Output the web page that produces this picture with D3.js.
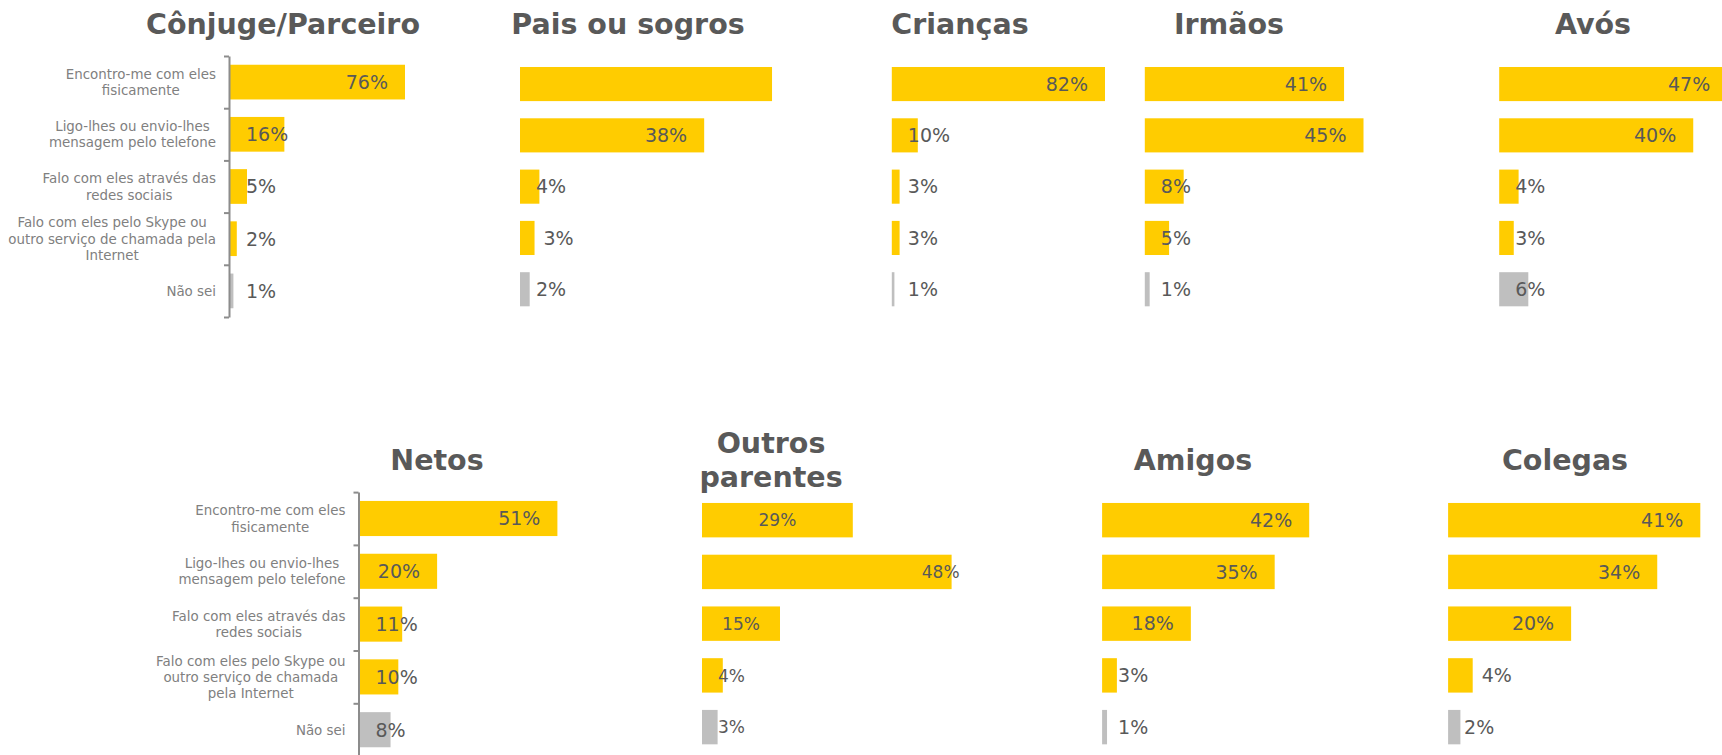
<!DOCTYPE html>
<html>
<head>
<meta charset="utf-8">
<script src="https://cdn.jsdelivr.net/npm/d3@7"></script>
<style>
body { margin: 0; background: #fff; }
text { font-family: "DejaVu Sans", Verdana, sans-serif; }
</style>
</head>
<body>
<div id="chart"></div>
<script>
// Chart params
var svgWidth = 1722;
var svgHeight = 755;

var yellow = "#FFCC00";
var gray = "#BFBFBF";

// Categories (same order in every panel)
var categories = [
    "Encontro-me com eles fisicamente",
    "Ligo-lhes ou envio-lhes mensagem pelo telefone",
    "Falo com eles através das redes sociais",
    "Falo com eles pelo Skype ou outro serviço de chamada pela Internet",
    "Não sei"
];

// how the category labels wrap, top row and bottom row
var linesTop = [
    ["Encontro-me com eles", "fisicamente"],
    ["Ligo-lhes ou envio-lhes", "mensagem pelo telefone"],
    ["Falo com eles através das", "redes sociais"],
    ["Falo com eles pelo Skype ou", "outro serviço de chamada pela", "Internet"],
    ["Não sei"]
];
var linesBottom = [
    ["Encontro-me com eles", "fisicamente"],
    ["Ligo-lhes ou envio-lhes", "mensagem pelo telefone"],
    ["Falo com eles através das", "redes sociais"],
    ["Falo com eles pelo Skype ou", "outro serviço de chamada", "pela Internet"],
    ["Não sei"]
];

// Values (%) per panel
var conjugeValues = [76, 16, 5, 2, 1];
var paisValues = [52, 38, 4, 3, 2];
var criancasValues = [82, 10, 3, 3, 1];
var irmaosValues = [41, 45, 8, 5, 1];
var avosValues = [47, 40, 4, 3, 6];
var netosValues = [51, 20, 11, 10, 8];
var outrosValues = [29, 48, 15, 4, 3];
var amigosValues = [42, 35, 18, 3, 1];
var colegasValues = [41, 34, 20, 4, 2];

// Layout of each small chart
var panels = [
    {title: ["Cônjuge/Parceiro"], values: conjugeValues, x0: 230, x1: 405, max: 51.5,
     y0: 56, y1: 317, tx: 283, ty: 34, axis: true, lines: linesTop, fs: 19,
     place: ["in", "base", "base", "base", "base"]},
    {title: ["Pais ou sogros"], values: paisValues, x0: 520, x1: 773, max: 52.2,
     y0: 58.4, y1: 314.9, tx: 628, ty: 34, fs: 19,
     place: ["none", "in", "base", "out", "base"]},
    {title: ["Crianças"], values: criancasValues, x0: 891.8, x1: 1105, max: 82,
     y0: 58.4, y1: 314.9, tx: 960, ty: 34, fs: 19,
     place: ["in", "base", "base", "base", "base"]},
    {title: ["Irmãos"], values: irmaosValues, x0: 1144.8, x1: 1363.5, max: 45,
     y0: 58.4, y1: 314.9, tx: 1229, ty: 34, fs: 19,
     place: ["in", "in", "base", "base", "base"]},
    {title: ["Avós"], values: avosValues, x0: 1499.2, x1: 1727.2, max: 47,
     y0: 58.4, y1: 314.9, tx: 1593, ty: 34, fs: 19,
     place: ["in", "in", "base", "base", "base"]},
    {title: ["Netos"], values: netosValues, x0: 359.5, x1: 557.4, max: 51,
     y0: 492.1, y1: 756.1, tx: 437, ty: 470, axis: true, lines: linesBottom, fs: 19,
     place: ["in", "in", "base", "base", "base"]},
    {title: ["Outros", "parentes"], values: outrosValues, x0: 702, x1: 951.6, max: 48,
     y0: 494.3, y1: 753, tx: 771, ty: 453.3, fs: 17,
     place: ["mid", "edge", "mid", "base", "base"]},
    {title: ["Amigos"], values: amigosValues, x0: 1102.1, x1: 1309.2, max: 42,
     y0: 494.3, y1: 753, tx: 1193, ty: 470, fs: 19,
     place: ["in", "in", "in", "base", "base"]},
    {title: ["Colegas"], values: colegasValues, x0: 1448.1, x1: 1700.3, max: 41,
     y0: 494.3, y1: 753, tx: 1565, ty: 470, fs: 19,
     place: ["in", "in", "in", "out", "base"]}
];

var svg = d3.select("#chart")
    .append("svg")
    .attr("width", svgWidth)
    .attr("height", svgHeight);

panels.forEach(function(p) {
    var g = svg.append("g");

    var x = d3.scaleLinear()
        .domain([0, p.max])
        .range([p.x0, p.x1])
        .clamp(true);

    var y = d3.scaleBand()
        .domain(categories)
        .range([p.y0, p.y1])
        .paddingInner(0.335)
        .paddingOuter(0.1675);

    // title
    var title = g.append("text")
        .attr("text-anchor", "middle")
        .attr("font-weight", "bold")
        .attr("font-size", "28.5px")
        .attr("fill", "#595959");
    p.title.forEach(function(t, i) {
        title.append("tspan")
            .attr("x", p.tx)
            .attr("y", p.ty + i * 33.4)
            .text(t);
    });

    // bars
    g.selectAll("rect")
        .data(p.values)
        .enter()
        .append("rect")
        .attr("x", x(0))
        .attr("y", (d, i) => y(categories[i]))
        .attr("width", d => x(d) - x(0))
        .attr("height", y.bandwidth())
        .attr("fill", (d, i) => i === categories.length - 1 ? gray : yellow);

    // value labels
    g.selectAll("text.val")
        .data(p.values)
        .enter()
        .append("text")
        .attr("class", "val")
        .attr("font-size", p.fs + "px")
        .attr("fill", "#595959")
        .attr("y", (d, i) => y(categories[i]) + y.bandwidth() / 2)
        .attr("dy", "0.36em")
        .attr("x", function(d, i) {
            var pl = p.place[i];
            if (pl === "in") return x(d) - 17;
            if (pl === "edge") return x(d) + 8;
            if (pl === "out") return x(d) + 9;
            if (pl === "mid") return (x(0) + x(d)) / 2;
            return x(0) + 16;
        })
        .attr("text-anchor", function(d, i) {
            var pl = p.place[i];
            if (pl === "in" || pl === "edge") return "end";
            if (pl === "mid") return "middle";
            return "start";
        })
        .text((d, i) => p.place[i] === "none" ? "" : d + "%");

    if (p.axis) {
        // category axis with ticks between the bars
        var t = d3.scaleLinear().domain([0, categories.length]).range([p.y0, p.y1]);
        var ax = g.append("g")
            .attr("transform", `translate(${p.x0 - 1}, 0)`)
            .call(d3.axisLeft(t).ticks(categories.length).tickFormat("").tickSizeInner(5).tickSizeOuter(0));
        ax.selectAll("path, line").attr("stroke", "#8c8c8c").attr("stroke-width", 2);

        // category labels, each line centered inside a right-aligned block
        var right = p.x0 - 14;
        categories.forEach(function(c, i) {
            var lines = p.lines[i];
            var cy = y(c) + y.bandwidth() / 2;
            var txt = g.append("text")
                .attr("font-size", "13.4px")
                .attr("fill", "#808080")
                .attr("text-anchor", "middle");
            lines.forEach(function(l, k) {
                txt.append("tspan")
                    .attr("x", 0)
                    .attr("y", cy + (k - (lines.length - 1) / 2) * 16.2 + 4.9)
                    .text(l);
            });
            var w = txt.node().getBBox().width;
            txt.selectAll("tspan").attr("x", right - w / 2);
        });
    }
});
</script>
</body>
</html>
